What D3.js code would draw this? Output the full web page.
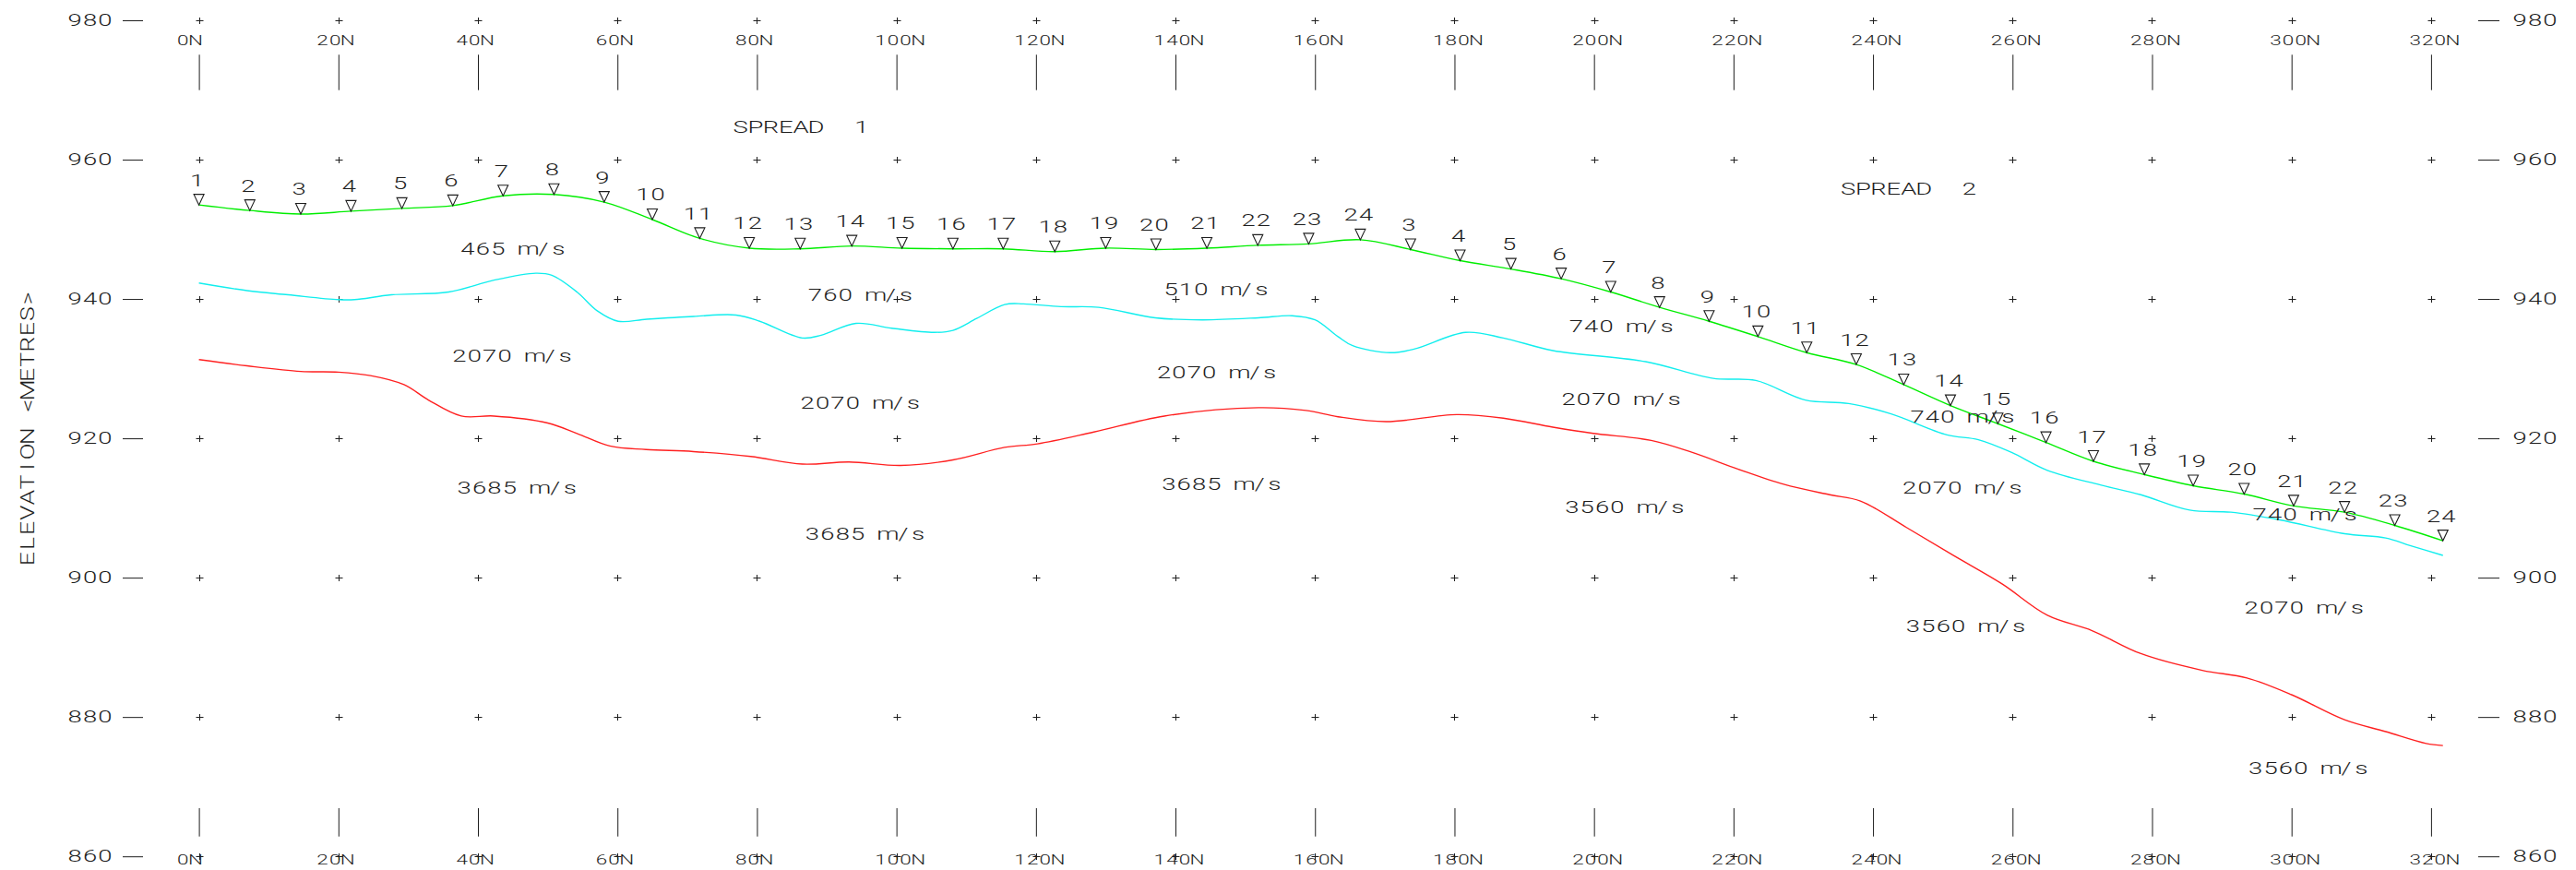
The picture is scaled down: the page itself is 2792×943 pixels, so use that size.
<!DOCTYPE html>
<html>
<head>
<meta charset="utf-8">
<title>Seismic refraction section</title>
<script src="https://cdn.jsdelivr.net/npm/d3@7"></script>
<style>
  html, body { margin: 0; padding: 0; background: #fff; }
  svg { display: block; }
  text { white-space: pre; }
</style>
</head>
<body>
<div id="chart"></div>
<script>
// ---- Data -------------------------------------------------------------
// Chainage ticks (m north) and elevation ticks (m)
const xTicks = [0, 20, 40, 60, 80, 100, 120, 140, 160, 180, 200, 220, 240, 260, 280, 300, 320];
const xTickLabels = ["0N", "20N", "40N", "60N", "80N", "100N", "120N", "140N", "160N", "180N", "200N", "220N", "240N", "260N", "280N", "300N", "320N"];
const yTicks = [860, 880, 900, 920, 940, 960, 980];

// Geophones, spread 1
const spread1Labels = [1, 2, 3, 4, 5, 6, 7, 8, 9, 10, 11, 12, 13, 14, 15, 16, 17, 18, 19, 20, 21, 22, 23, 24];
const spread1Chainage = [0, 7.3, 14.6, 21.8, 29.1, 36.4, 43.6, 50.9, 58.1, 65.0, 71.8, 78.9, 86.2, 93.6, 100.8, 108.1, 115.3, 122.7, 130.0, 137.2, 144.5, 151.8, 159.1, 166.5];
const spread1Elevation = [953.5, 952.7, 952.2, 952.6, 953.0, 953.4, 954.8, 955.0, 953.9, 951.4, 948.7, 947.3, 947.2, 947.6, 947.3, 947.2, 947.2, 946.8, 947.3, 947.1, 947.3, 947.7, 947.9, 948.5];

// Geophones, spread 2
const spread2Labels = [3, 4, 5, 6, 7, 8, 9, 10, 11, 12, 13, 14, 15, 16, 17, 18, 19, 20, 21, 22, 23, 24];
const spread2Chainage = [173.7, 180.8, 188.1, 195.3, 202.4, 209.4, 216.5, 223.5, 230.5, 237.6, 244.4, 251.1, 257.9, 264.8, 271.6, 278.9, 285.9, 293.2, 300.3, 307.6, 314.8, 321.7];
const spread2Elevation = [947.1, 945.5, 944.3, 942.9, 941.0, 938.8, 936.8, 934.6, 932.3, 930.6, 927.7, 924.7, 922.1, 919.4, 916.7, 914.8, 913.2, 912.0, 910.3, 909.4, 907.5, 905.3];

// First refractor (top of 2070 m/s layer)
const refractor1Chainage = [0, 6.9, 12.8, 20.0, 22.3, 27.6, 35.8, 42.3, 48.3, 50.6, 54.2, 57.1, 60.1, 64.2, 70.9, 77.0, 80.4, 86.5, 89.2, 94.2, 99.3, 105.4, 108.1, 111.5, 115.5, 118.2, 123.6, 129.0, 137.1, 143.8, 151.9, 156.7, 160.0, 163.3, 165.4, 170.8, 174.2, 181.6, 187.0, 194.1, 207.4, 217.1, 223.2, 230.3, 236.5, 242.6, 250.6, 255.1, 259.8, 265.0, 272.6, 278.4, 285.4, 291.3, 298.3, 307.6, 313.5, 317.0, 321.7];
const refractor1Elevation = [942.3, 941.2, 940.6, 939.9, 939.9, 940.6, 941.0, 942.7, 943.7, 943.4, 941.0, 938.3, 936.8, 937.1, 937.5, 937.7, 936.8, 934.4, 934.8, 936.5, 935.8, 935.2, 935.5, 937.2, 939.2, 939.3, 938.9, 938.8, 937.3, 937.0, 937.3, 937.6, 937.0, 934.6, 933.3, 932.3, 932.8, 935.2, 934.4, 932.6, 931.0, 928.6, 928.3, 925.5, 925.0, 923.5, 920.5, 919.8, 918.0, 915.4, 913.3, 911.9, 909.7, 909.4, 908.3, 906.3, 905.7, 904.6, 903.2];

// Second refractor (top of bedrock)
const refractor2Chainage = [0, 6.9, 14.6, 20.0, 24.6, 29.4, 32.9, 37.6, 42.3, 50.0, 54.2, 58.9, 64.1, 70.9, 79.1, 86.5, 93.2, 100.6, 108.1, 115.5, 120.2, 128.3, 138.4, 151.9, 158.7, 163.3, 170.2, 180.3, 187.0, 194.1, 199.9, 208.2, 214.0, 220.6, 227.2, 233.8, 238.2, 244.8, 251.5, 258.5, 265.0, 271.4, 278.4, 287.2, 293.6, 300.0, 307.6, 313.5, 319.3, 321.7];
const refractor2Elevation = [931.3, 930.4, 929.6, 929.5, 929.0, 927.7, 925.5, 923.2, 923.2, 922.2, 920.7, 918.9, 918.4, 918.1, 917.4, 916.3, 916.6, 916.1, 916.9, 918.7, 919.2, 920.9, 923.2, 924.4, 924.0, 923.1, 922.4, 923.4, 922.9, 921.6, 920.7, 919.7, 918.0, 915.6, 913.4, 911.9, 911.0, 907.2, 903.2, 899.1, 894.6, 892.4, 889.1, 886.7, 885.6, 883.2, 879.6, 877.9, 876.2, 875.9];

// Layer velocity annotations (anchor: left end of the text baseline)
const velocityText = ["465 m/s", "760 m/s", "510 m/s", "2070 m/s", "2070 m/s", "2070 m/s", "3685 m/s", "3685 m/s", "3685 m/s", "740 m/s", "2070 m/s", "3560 m/s", "740 m/s", "2070 m/s", "3560 m/s", "740 m/s", "2070 m/s", "3560 m/s"];
const velocityChainage = [37.6, 87.4, 138.4, 36.4, 86.3, 137.4, 37.1, 87.0, 138.1, 196.5, 195.4, 195.9, 245.4, 244.3, 244.8, 294.5, 293.3, 293.9];
const velocityElevation = [946.4, 939.75, 940.5, 931.0, 924.2, 928.6, 912.1, 905.45, 912.6, 935.2, 924.8, 909.3, 922.2, 912.1, 892.2, 908.2, 894.9, 871.8];

// Spread titles
const spreadText = ["SPREAD  1", "SPREAD  2"];
const spreadChainage = [76.7, 235.5];
const spreadElevation = [963.8, 955.0];

const axisTitle = "ELEVATION <METRES>";

// ---- Layout & style ---------------------------------------------------
const W = 2792, H = 943;
const INK = "#1e1e1e";
const FONT = "Roboto, 'DejaVu Sans', sans-serif";
const GROUND = "#00ee00", REF1 = "#12eeee", REF2 = "#ff2020";

// Plotter-style lettering: every glyph sits in a fixed-width cell
const TXT = { size: 18.3, adv: 16.4, glyph: 14.2, sx: 1.5 };
const TICK = { size: 14.5, adv: 13.6, glyph: 12.5, sx: 1.55 };
const TITLE = { size: 20.5, adv: 16.6, glyph: 13, sx: 1.3 };

const x = d3.scaleLinear().domain([0, 320]).range([215.6, 2634.9]);
const y = d3.scaleLinear().domain([860, 980]).range([928.2, 22]);

const svg = d3.select("#chart").append("svg")
  .attr("width", W).attr("height", H)
  .attr("viewBox", `0 0 ${W} ${H}`)
  .style("background", "#fff");

// Lays out a string one character per cell, anchored at (ax, ay)
function placeChars(t, s, ax, ay, st, anchor, rotate, by) {
  const w = (s.length - 1) * st.adv + st.glyph;
  const left = anchor === "end" ? -w : anchor === "middle" ? -w / 2 : 0;
  const rot = rotate ? ` rotate(${rotate})` : "";
  t.attr("transform", `translate(${ax},${ay})${rot} translate(${left},${by || 0}) scale(${st.sx},1)`)
    .attr("text-anchor", "middle")
    .attr("font-family", FONT)
    .attr("font-weight", 300)
    .attr("font-size", st.size)
    .attr("fill", INK)
    .attr("stroke", "none");
  t.selectAll("tspan").data(s.split("")).join("tspan")
    .attr("x", (d, i) => (st.glyph / 2 + i * st.adv) / st.sx)
    .text(d => d);
}

function relabel(axisG, ax, ay, st, anchor) {
  axisG.selectAll(".tick text").each(function () {
    const t = d3.select(this);
    const s = t.text();
    t.text(null).attr("x", null).attr("y", null).attr("dy", null);
    placeChars(t, s, ax, ay, st, anchor);
  });
}

function styleAxis(g) {
  g.select(".domain").remove();
  g.attr("font-family", null).attr("font-size", null);
  g.selectAll(".tick line").attr("stroke", INK).attr("stroke-width", 1);
}

// ---- Axes -------------------------------------------------------------
const yLeft = svg.append("g").attr("transform", "translate(155,0)")
  .call(d3.axisLeft(y).tickValues(yTicks).tickSize(22).tickFormat(d3.format("d")));
styleAxis(yLeft);
relabel(yLeft, -34, 5, TXT, "end");

const yRight = svg.append("g").attr("transform", "translate(2686,0)")
  .call(d3.axisRight(y).tickValues(yTicks).tickSize(23).tickFormat(d3.format("d")));
styleAxis(yRight);
relabel(yRight, 38, 5, TXT, "start");

const xLabel = d => xTickLabels[xTicks.indexOf(d)];

const xTop = svg.append("g").attr("transform", "translate(0,97.7)")
  .call(d3.axisTop(x).tickValues(xTicks).tickSize(38.4).tickFormat(xLabel));
styleAxis(xTop);
relabel(xTop, -24, -48.4, TICK, "start");

const xBottom = svg.append("g").attr("transform", "translate(0,876)")
  .call(d3.axisBottom(x).tickValues(xTicks).tickSize(30.7).tickFormat(xLabel));
styleAxis(xBottom);
relabel(xBottom, -24, 61.3, TICK, "start");

// Vertical axis title
placeChars(svg.append("text"), axisTitle, 29.7, 464.5, TITLE, "middle", -90, 7.3);

// ---- Grid crosses ------------------------------------------------------
const px = v => Math.round(x(v)) + 0.5;
const py = v => Math.round(y(v)) + 0.5;
svg.append("g")
  .attr("stroke", INK).attr("stroke-width", 1).attr("fill", "none")
  .selectAll("path")
  .data(d3.cross(xTicks, yTicks))
  .join("path")
  .attr("d", ([cx, cy]) => `M${px(cx) - 4},${py(cy)}h8M${px(cx)},${py(cy) - 3.5}v7`);

// ---- Layer boundaries --------------------------------------------------
const line = d3.line()
  .x(d => x(d[0])).y(d => y(d[1]))
  .curve(d3.curveCatmullRom.alpha(0.5));

const ground = d3.zip(spread1Chainage.concat(spread2Chainage), spread1Elevation.concat(spread2Elevation));
const refractor1 = d3.zip(refractor1Chainage, refractor1Elevation);
const refractor2 = d3.zip(refractor2Chainage, refractor2Elevation);

const lines = svg.append("g").attr("fill", "none").attr("stroke-width", 1.4);
lines.append("path").attr("d", line(refractor2)).attr("stroke", REF2);
lines.append("path").attr("d", line(refractor1)).attr("stroke", REF1);
lines.append("path").attr("d", line(ground)).attr("stroke", GROUND);

// ---- Annotations -------------------------------------------------------
const notes = svg.append("g");
velocityText.forEach((s, i) => {
  placeChars(notes.append("text"), s, x(velocityChainage[i]), y(velocityElevation[i]), TXT, "start");
});
spreadText.forEach((s, i) => {
  placeChars(notes.append("text"), s, x(spreadChainage[i]), y(spreadElevation[i]), TXT, "start");
});

// ---- Geophones ---------------------------------------------------------
const phones = spread1Labels.map((n, i) => ({ n, ch: spread1Chainage[i], el: spread1Elevation[i] }))
  .concat(spread2Labels.map((n, i) => ({ n, ch: spread2Chainage[i], el: spread2Elevation[i] })));

const gp = svg.append("g");
gp.selectAll("path").data(phones).join("path")
  .attr("d", d => {
    const cx = x(d.ch), cy = y(d.el);
    return `M${cx - 5.5},${cy - 11.5}L${cx + 5.5},${cy - 11.5}L${cx},${cy}Z`;
  })
  .attr("fill", "none").attr("stroke", INK).attr("stroke-width", 1.1);

phones.forEach(d => {
  placeChars(gp.append("text"), String(d.n), x(d.ch) - 2, y(d.el) - 20.5, TXT, "middle");
});
</script>
</body>
</html>
